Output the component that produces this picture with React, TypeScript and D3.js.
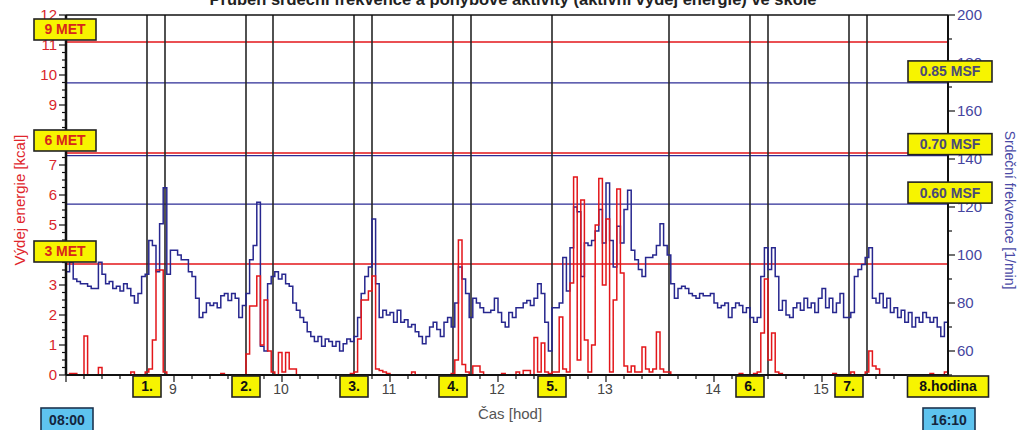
import React from 'react'
import * as d3 from 'd3'

// data sampled every 2 minutes from 8:00 (minute 0) to 16:10 (minute 490)
const stepMin = 2

const heartRate = [
  93, 97, 90, 89, 88, 88, 87, 86, 86, 97,
  92, 88, 89, 86, 87, 85, 88, 86, 83, 80,
  84, 91, 92, 106, 104, 93, 113, 128, 92, 102,
  102, 100, 98, 98, 93, 91, 82, 74, 76, 80,
  79, 80, 78, 83, 84, 81, 84, 82, 74, 79,
  84, 98, 104, 122, 62, 60, 88, 91, 93, 90,
  92, 88, 87, 80, 77, 74, 72, 68, 66, 64,
  66, 62, 65, 64, 62, 64, 60, 63, 65, 64,
  66, 74, 84, 91, 95, 115, 88, 74, 77, 75,
  76, 72, 77, 72, 73, 70, 71, 68, 66, 63,
  66, 70, 72, 69, 66, 72, 74, 70, 80, 95,
  90, 84, 74, 82, 80, 78, 76, 76, 77, 82,
  76, 72, 70, 76, 74, 78, 78, 80, 81, 79,
  82, 88, 84, 72, 60, 78, 78, 80, 99, 85,
  103, 120, 118, 91, 105, 104, 106, 110, 119, 105,
  130, 106, 95, 112, 105, 119, 127, 102, 98, 94,
  91, 99, 99, 100, 104, 113, 104, 100, 88, 82,
  86, 87, 86, 84, 83, 82, 84, 83, 83, 84,
  80, 78, 79, 80, 74, 78, 80, 79, 76, 78,
  74, 72, 74, 91, 103, 94, 103, 91, 77, 81,
  75, 74, 78, 80, 77, 82, 78, 80, 76, 82,
  86, 78, 82, 76, 80, 84, 74, 74, 76, 91,
  94, 96, 99, 103, 82, 80, 84, 78, 82, 76,
  78, 74, 77, 72, 76, 70, 74, 72, 76, 74,
  72, 74, 70, 66, 72, 76,
]

const energy = [
  0, 0.05, 0.05, 0, 0, 1.3, 0, 0, 0, 0.25,
  0, 0, 0, 0, 0, 0, 0, 0, 0.1, 0,
  0, 0, 0.1, 0.2, 1.17, 3.5, 3.5, 0.1, 0, 0,
  0, 0, 0, 0, 0, 0, 0, 0, 0, 0,
  0, 0, 0, 0.05, 0, 0, 0, 0, 0, 0,
  0.7, 2.3, 2.3, 3.3, 1.0, 2.5, 0.8, 0.1, 0, 0.75,
  0.1, 0.75, 0.2, 0.2, 0, 0, 0, 0, 0, 0,
  0, 0, 0, 0, 0, 0, 0, 0, 0, 0.05,
  0.1, 1.2, 2.5, 2.5, 2.8, 3.3, 0.2, 0.15, 0.1, 0.05,
  0, 0, 0, 0, 0, 0, 0.1, 0, 0, 0,
  0, 0, 0, 0, 0, 0, 0, 0.05, 0.5, 4.5,
  0.35, 0.1, 0, 0.3, 0.3, 0.1, 0, 0, 0, 0,
  0, 0.05, 0, 0, 0, 0.1, 0, 0.15, 0.15, 0,
  1.25, 0.1, 1.07, 0.1, 0.05, 0.1, 0.1, 1.93, 0.2, 0.1,
  3.07, 6.6, 0.5, 5.83, 1.17, 0.1, 1.0, 5.0, 6.55, 3.0,
  5.2, 0.1, 2.5, 6.2, 3.4, 0.3, 0.1, 0.3, 0.1, 0.1,
  0.93, 0.2, 0.1, 0.2, 1.43, 0.2, 0.1, 0.1, 0, 0,
  0, 0, 0, 0, 0, 0, 0, 0, 0, 0,
  0, 0, 0, 0, 0, 0, 0, 0.05, 0, 0,
  0, 0.05, 0.1, 1.4, 3.2, 0.5, 1.4, 0.1, 0.05, 0,
  0, 0, 0, 0, 0, 0, 0, 0, 0, 0,
  0, 0, 0, 0.05, 0, 0, 0, 0, 0.1, 0,
  0, 0, 0.1, 0.8, 0.3, 0.2, 0, 0, 0, 0,
  0, 0, 0, 0, 0, 0, 0, 0, 0, 0,
  0.05, 0, 0, 0, 0.1, 0.33,
]

// lesson / break boundaries in minutes after 8:00
const lessonLines = [45, 55, 100, 115, 160, 170, 215, 225, 270, 335, 380, 390, 435, 445]
const lessonEnds = [45, 100, 160, 215, 270, 380, 435, 490]
const lessonLabels = ['1.', '2.', '3.', '4.', '5.', '6.', '7.', '8.hodina']

const metLabels = ['3 MET', '6 MET', '9 MET']
const metKcal = [3.7, 7.4, 11.1]

const maxHeartRate = 202
const msfLabels = ['0.60 MSF', '0.70 MSF', '0.85 MSF']
const msfShares = [0.6, 0.7, 0.85]

const hourLabels = [9, 10, 11, 12, 13, 14, 15]
const timeLabels = ['08:00', '16:10']

const FONT = "Arial, 'Liberation Sans', sans-serif"

export default function App() {
  const W = 1019
  const H = 430
  const left = 66, right = 948, top = 15, bottom = 375

  const x = d3.scaleLinear().domain([0, 490]).range([left, right])
  const yE = d3.scaleLinear().domain([0, 12]).range([bottom, top])
  const yH = d3.scaleLinear().domain([50, 200]).range([bottom, top])

  const hrLine = d3.line<number>()
    .x((_, i) => x(i * stepMin))
    .y(d => yH(d))
    .curve(d3.curveStepAfter)
  const enLine = d3.line<number>()
    .x((_, i) => x(i * stepMin))
    .y(d => yE(d))
    .curve(d3.curveStepAfter)

  const leftTicks = d3.range(0, 12.001, 0.25)
  const rightTicks = d3.range(50, 200.1, 10)
  const bottomTicks = d3.range(0, 491, 10)

  return (
    <svg width={W} height={H} style={{ position: 'absolute', left: 0, top: 0, background: '#fff' }}
      fontFamily={FONT}>
      {/* title, cut at the top edge */}
      <text x={513} y={5} textAnchor="middle" fontSize={16.5} fontWeight="bold" fill="#222">
        Průběh srdeční frekvence a pohybové aktivity (aktivní výdej energie) ve škole
      </text>

      {/* reference lines */}
      {metKcal.map((k, i) => (
        <line key={'met' + i} x1={left} x2={right} y1={yE(k)} y2={yE(k)} stroke="#e3161a" strokeWidth={1.6} />
      ))}
      {msfShares.map((s, i) => (
        <line key={'msf' + i} x1={left} x2={right} y1={yH(s * maxHeartRate)} y2={yH(s * maxHeartRate)}
          stroke="#2d2d96" strokeWidth={1.3} />
      ))}

      {/* lesson boundaries */}
      {lessonLines.map((t, i) => (
        <line key={'ll' + i} x1={x(t)} x2={x(t)} y1={top} y2={bottom} stroke="#262626" strokeWidth={1.6} />
      ))}

      {/* series */}
      <path d={hrLine(heartRate) || ''} fill="none" stroke="#27278f" strokeWidth={1.5} />
      <path d={enLine(energy) || ''} fill="none" stroke="#e3161a" strokeWidth={1.5} />

      {/* frame */}
      <line x1={left} x2={right} y1={top} y2={top} stroke="#111" strokeWidth={1.5} />
      <line x1={left} x2={right} y1={bottom} y2={bottom} stroke="#111" strokeWidth={2} />
      <line x1={left} x2={left} y1={top} y2={bottom} stroke="#111" strokeWidth={2.5} />
      <line x1={right} x2={right} y1={top} y2={bottom} stroke="#111" strokeWidth={2} />

      {/* left axis */}
      {leftTicks.map((v, i) => {
        const major = Math.abs(v - Math.round(v)) < 1e-6
        return (
          <g key={'lt' + i}>
            <line x1={left - (major ? 7 : 4)} x2={left} y1={yE(v)} y2={yE(v)} stroke="#111" strokeWidth={1.2} />
            {major && (
              <text x={left - 9} y={yE(v)} dy="0.35em" textAnchor="end" fontSize={15} fill="#d9262c">{v}</text>
            )}
          </g>
        )
      })}
      <text transform={`translate(19,${(top + bottom) / 2 + 5}) rotate(-90)`} textAnchor="middle"
        dominantBaseline="central" fontSize={15} fill="#e0262c">Výdej energie [kcal]</text>

      {/* right axis */}
      {rightTicks.map((v, i) => {
        const major = v % 20 === 0 && v >= 60
        return (
          <g key={'rt' + i}>
            <line x1={right} x2={right + (major ? 7 : 4)} y1={yH(v)} y2={yH(v)} stroke="#111" strokeWidth={1.2} />
            {major && (
              <text x={right + 9} y={yH(v)} dy="0.35em" textAnchor="start" fontSize={15} fill="#4545a0">{v}</text>
            )}
          </g>
        )
      })}
      <text transform={`translate(1010,${(top + bottom) / 2 + 15}) rotate(90)`} textAnchor="middle"
        dominantBaseline="central" fontSize={14} fill="#4a4aa6">Srdeční frekvence [1/min]</text>

      {/* bottom axis */}
      {bottomTicks.map((t, i) => {
        const major = t % 60 === 0
        return (
          <line key={'bt' + i} x1={x(t)} x2={x(t)} y1={bottom} y2={bottom + (major ? 7 : 4)}
            stroke="#111" strokeWidth={1.2} />
        )
      })}
      {hourLabels.map(h => (
        <text key={'hl' + h} x={x((h - 8) * 60) - 1} y={394} textAnchor="middle" fontSize={14} fill="#444">{h}</text>
      ))}
      <text x={510} y={419} textAnchor="middle" fontSize={15} fill="#555">Čas [hod]</text>

      {/* MET boxes */}
      {metKcal.map((k, i) => (
        <g key={'mb' + i}>
          <rect x={34} y={yE(k) - 23} width={62} height={21} fill="#f7f400" stroke="#222" strokeWidth={1.6} />
          <text x={65} y={yE(k) - 12.5} dy="0.35em" textAnchor="middle" fontSize={14} fontWeight="bold"
            fill="#d7261c">{metLabels[i]}</text>
        </g>
      ))}

      {/* MSF boxes */}
      {msfShares.map((s, i) => (
        <g key={'sb' + i}>
          <rect x={908} y={yH(s * maxHeartRate) - 22} width={84} height={21} fill="#f7f400" stroke="#222"
            strokeWidth={1.6} />
          <text x={950} y={yH(s * maxHeartRate) - 11.5} dy="0.35em" textAnchor="middle" fontSize={14}
            fontWeight="bold" fill="#4a4a78">{msfLabels[i]}</text>
        </g>
      ))}

      {/* lesson labels */}
      {lessonEnds.map((t, i) => {
        const w = lessonLabels[i].length > 2 ? 81 : 28
        return (
          <g key={'lb' + i}>
            <rect x={x(t) - w / 2} y={376} width={w} height={21} fill="#f7f400" stroke="#222" strokeWidth={1.6} />
            <text x={x(t)} y={386.5} dy="0.35em" textAnchor="middle" fontSize={14} fontWeight="bold"
              fill="#111">{lessonLabels[i]}</text>
          </g>
        )
      })}

      {/* start / end time boxes */}
      {[0, 490].map((t, i) => (
        <g key={'tb' + i}>
          <rect x={x(t) - 25} y={408} width={52} height={24} fill="#5ec3ef" stroke="#1d3550" strokeWidth={1.6} />
          <text x={x(t) + 1} y={420} dy="0.35em" textAnchor="middle" fontSize={14} fontWeight="bold"
            fill="#13253d">{timeLabels[i]}</text>
        </g>
      ))}
    </svg>
  )
}
